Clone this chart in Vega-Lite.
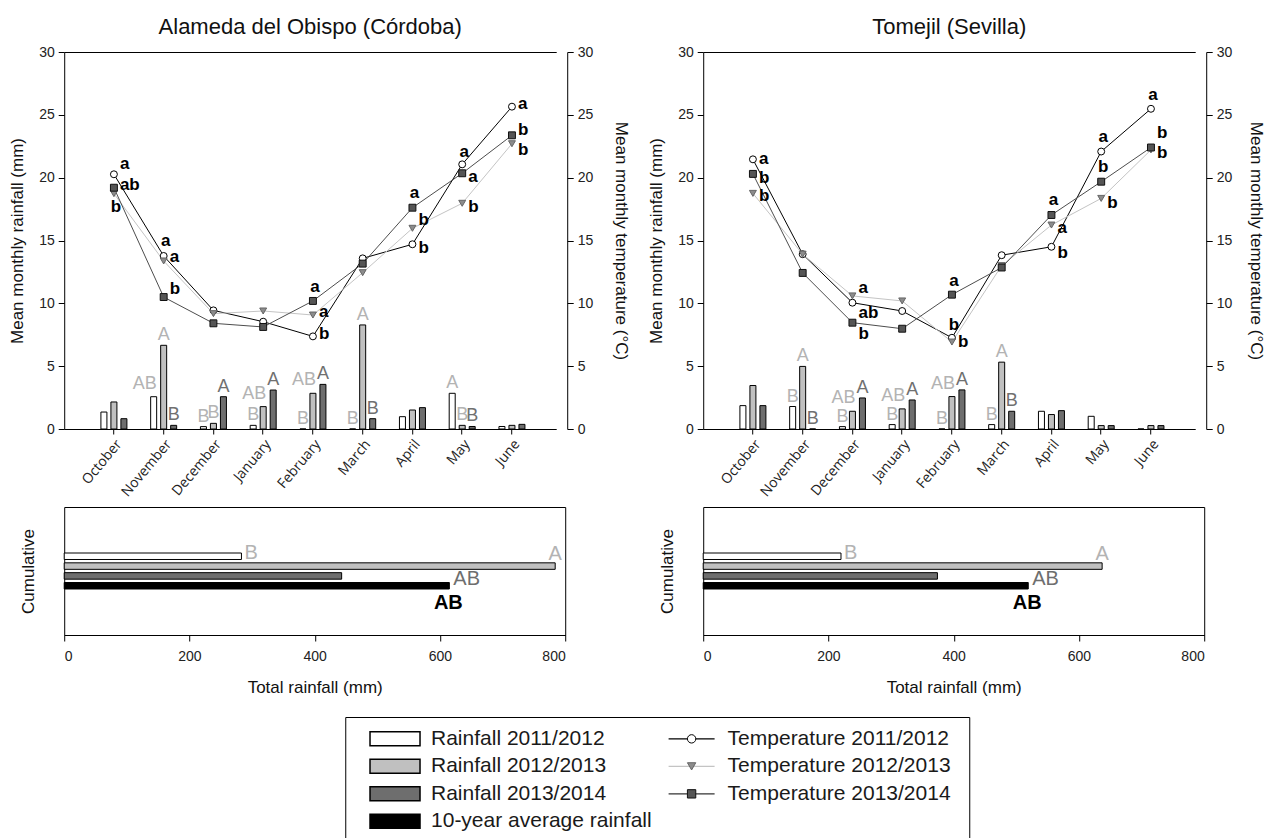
{
  "$schema": "https://vega.github.io/schema/vega-lite/v6.json",
  "padding": {"left": 8, "top": 16, "right": 0, "bottom": 0},
  "background": "white",
  "config": {
    "font": "Liberation Sans",
    "view": {"stroke": null},
    "text": {"font": "Liberation Sans"},
    "axis": {"labelFont": "Liberation Sans", "labelFontSize": 14, "labelColor": "#222", "titleFont": "Liberation Sans", "titleFontSize": 17, "titleFontWeight": "normal", "titleColor": "#111", "domainColor": "#000", "tickColor": "#000", "grid": false, "domainWidth": 1, "tickWidth": 1}
  },
  "datasets": {
    "rain": [
      {"site":"C","month":"October","year":"2011/2012","mm":1.35},
      {"site":"C","month":"October","year":"2012/2013","mm":2.15},
      {"site":"C","month":"October","year":"2013/2014","mm":0.82},
      {"site":"C","month":"November","year":"2011/2012","mm":2.57,"letter":"AB"},
      {"site":"C","month":"November","year":"2012/2013","mm":6.66,"letter":"A"},
      {"site":"C","month":"November","year":"2013/2014","mm":0.29,"letter":"B"},
      {"site":"C","month":"December","year":"2011/2012","mm":0.19,"letter":"B"},
      {"site":"C","month":"December","year":"2012/2013","mm":0.45,"letter":"B"},
      {"site":"C","month":"December","year":"2013/2014","mm":2.57,"letter":"A"},
      {"site":"C","month":"January","year":"2011/2012","mm":0.29,"letter":"B"},
      {"site":"C","month":"January","year":"2012/2013","mm":1.78,"letter":"AB"},
      {"site":"C","month":"January","year":"2013/2014","mm":3.10,"letter":"A"},
      {"site":"C","month":"February","year":"2011/2012","mm":0.0,"letter":"B"},
      {"site":"C","month":"February","year":"2012/2013","mm":2.84,"letter":"AB"},
      {"site":"C","month":"February","year":"2013/2014","mm":3.55,"letter":"A"},
      {"site":"C","month":"March","year":"2011/2012","mm":0.0,"letter":"B"},
      {"site":"C","month":"March","year":"2012/2013","mm":8.28,"letter":"A"},
      {"site":"C","month":"March","year":"2013/2014","mm":0.82,"letter":"B"},
      {"site":"C","month":"April","year":"2011/2012","mm":0.98},
      {"site":"C","month":"April","year":"2012/2013","mm":1.51},
      {"site":"C","month":"April","year":"2013/2014","mm":1.70},
      {"site":"C","month":"May","year":"2011/2012","mm":2.84,"letter":"A"},
      {"site":"C","month":"May","year":"2012/2013","mm":0.29,"letter":"B"},
      {"site":"C","month":"May","year":"2013/2014","mm":0.20,"letter":"B"},
      {"site":"C","month":"June","year":"2011/2012","mm":0.20},
      {"site":"C","month":"June","year":"2012/2013","mm":0.29},
      {"site":"C","month":"June","year":"2013/2014","mm":0.37},
      {"site":"S","month":"October","year":"2011/2012","mm":1.86},
      {"site":"S","month":"October","year":"2012/2013","mm":3.46},
      {"site":"S","month":"October","year":"2013/2014","mm":1.86},
      {"site":"S","month":"November","year":"2011/2012","mm":1.79,"letter":"B"},
      {"site":"S","month":"November","year":"2012/2013","mm":4.98,"letter":"A"},
      {"site":"S","month":"November","year":"2013/2014","mm":0.0,"letter":"B"},
      {"site":"S","month":"December","year":"2011/2012","mm":0.19,"letter":"B"},
      {"site":"S","month":"December","year":"2012/2013","mm":1.41,"letter":"AB"},
      {"site":"S","month":"December","year":"2013/2014","mm":2.47,"letter":"A"},
      {"site":"S","month":"January","year":"2011/2012","mm":0.35,"letter":"B"},
      {"site":"S","month":"January","year":"2012/2013","mm":1.60,"letter":"AB"},
      {"site":"S","month":"January","year":"2013/2014","mm":2.31,"letter":"A"},
      {"site":"S","month":"February","year":"2011/2012","mm":0.0,"letter":"B"},
      {"site":"S","month":"February","year":"2012/2013","mm":2.58,"letter":"AB"},
      {"site":"S","month":"February","year":"2013/2014","mm":3.11,"letter":"A"},
      {"site":"S","month":"March","year":"2011/2012","mm":0.35,"letter":"B"},
      {"site":"S","month":"March","year":"2012/2013","mm":5.32,"letter":"A"},
      {"site":"S","month":"March","year":"2013/2014","mm":1.41,"letter":"B"},
      {"site":"S","month":"April","year":"2011/2012","mm":1.41},
      {"site":"S","month":"April","year":"2012/2013","mm":1.15},
      {"site":"S","month":"April","year":"2013/2014","mm":1.46},
      {"site":"S","month":"May","year":"2011/2012","mm":1.01},
      {"site":"S","month":"May","year":"2012/2013","mm":0.27},
      {"site":"S","month":"May","year":"2013/2014","mm":0.27},
      {"site":"S","month":"June","year":"2011/2012","mm":0.0},
      {"site":"S","month":"June","year":"2012/2013","mm":0.27},
      {"site":"S","month":"June","year":"2013/2014","mm":0.27}
    ],
    "temp": [
      {"site":"C","year":"2011/2012","month":"October","mi":1,"t":20.27},
      {"site":"C","year":"2011/2012","month":"November","mi":2,"t":13.77},
      {"site":"C","year":"2011/2012","month":"December","mi":3,"t":9.44},
      {"site":"C","year":"2011/2012","month":"January","mi":4,"t":8.54},
      {"site":"C","year":"2011/2012","month":"February","mi":5,"t":7.37},
      {"site":"C","year":"2011/2012","month":"March","mi":6,"t":13.58},
      {"site":"C","year":"2011/2012","month":"April","mi":7,"t":14.70},
      {"site":"C","year":"2011/2012","month":"May","mi":8,"t":21.06},
      {"site":"C","year":"2011/2012","month":"June","mi":9,"t":25.65},
      {"site":"C","year":"2012/2013","month":"October","mi":1,"t":18.73},
      {"site":"C","year":"2012/2013","month":"November","mi":2,"t":13.37},
      {"site":"C","year":"2012/2013","month":"December","mi":3,"t":9.18},
      {"site":"C","year":"2012/2013","month":"January","mi":4,"t":9.39},
      {"site":"C","year":"2012/2013","month":"February","mi":5,"t":9.07},
      {"site":"C","year":"2012/2013","month":"March","mi":6,"t":12.44},
      {"site":"C","year":"2012/2013","month":"April","mi":7,"t":15.97},
      {"site":"C","year":"2012/2013","month":"May","mi":8,"t":17.96},
      {"site":"C","year":"2012/2013","month":"June","mi":9,"t":22.70},
      {"site":"C","year":"2013/2014","month":"October","mi":1,"t":19.20},
      {"site":"C","year":"2013/2014","month":"November","mi":2,"t":10.50},
      {"site":"C","year":"2013/2014","month":"December","mi":3,"t":8.41},
      {"site":"C","year":"2013/2014","month":"January","mi":4,"t":8.12},
      {"site":"C","year":"2013/2014","month":"February","mi":5,"t":10.19},
      {"site":"C","year":"2013/2014","month":"March","mi":6,"t":13.16},
      {"site":"C","year":"2013/2014","month":"April","mi":7,"t":17.61},
      {"site":"C","year":"2013/2014","month":"May","mi":8,"t":20.35},
      {"site":"C","year":"2013/2014","month":"June","mi":9,"t":23.37},
      {"site":"S","year":"2011/2012","month":"October","mi":1,"t":21.46},
      {"site":"S","year":"2011/2012","month":"November","mi":2,"t":13.91},
      {"site":"S","year":"2011/2012","month":"December","mi":3,"t":10.05},
      {"site":"S","year":"2011/2012","month":"January","mi":4,"t":9.39},
      {"site":"S","year":"2011/2012","month":"February","mi":5,"t":7.26},
      {"site":"S","year":"2011/2012","month":"March","mi":6,"t":13.83},
      {"site":"S","year":"2011/2012","month":"April","mi":7,"t":14.50},
      {"site":"S","year":"2011/2012","month":"May","mi":8,"t":22.08},
      {"site":"S","year":"2011/2012","month":"June","mi":9,"t":25.48},
      {"site":"S","year":"2012/2013","month":"October","mi":1,"t":18.75},
      {"site":"S","year":"2012/2013","month":"November","mi":2,"t":13.91},
      {"site":"S","year":"2012/2013","month":"December","mi":3,"t":10.59},
      {"site":"S","year":"2012/2013","month":"January","mi":4,"t":10.19},
      {"site":"S","year":"2012/2013","month":"February","mi":5,"t":6.92},
      {"site":"S","year":"2012/2013","month":"March","mi":6,"t":13.0},
      {"site":"S","year":"2012/2013","month":"April","mi":7,"t":16.23},
      {"site":"S","year":"2012/2013","month":"May","mi":8,"t":18.35},
      {"site":"S","year":"2012/2013","month":"June","mi":9,"t":22.21},
      {"site":"S","year":"2013/2014","month":"October","mi":1,"t":20.30},
      {"site":"S","year":"2013/2014","month":"November","mi":2,"t":12.42},
      {"site":"S","year":"2013/2014","month":"December","mi":3,"t":8.46},
      {"site":"S","year":"2013/2014","month":"January","mi":4,"t":7.98},
      {"site":"S","year":"2013/2014","month":"February","mi":5,"t":10.69},
      {"site":"S","year":"2013/2014","month":"March","mi":6,"t":12.85},
      {"site":"S","year":"2013/2014","month":"April","mi":7,"t":17.03},
      {"site":"S","year":"2013/2014","month":"May","mi":8,"t":19.68},
      {"site":"S","year":"2013/2014","month":"June","mi":9,"t":22.40}
    ],
    "tlet": [
      {"site":"C","month":"October","year":"2011/2012","letter":"a","t":21.09,"side":"r"},
      {"site":"C","month":"October","year":"2013/2014","letter":"ab","t":19.42,"side":"r"},
      {"site":"C","month":"October","year":"2012/2013","letter":"b","t":17.67,"side":"c"},
      {"site":"C","month":"November","year":"2011/2012","letter":"a","t":14.96,"side":"c"},
      {"site":"C","month":"November","year":"2012/2013","letter":"a","t":13.69,"side":"r"},
      {"site":"C","month":"November","year":"2013/2014","letter":"b","t":11.14,"side":"r"},
      {"site":"C","month":"February","year":"2013/2014","letter":"a","t":11.30,"side":"c"},
      {"site":"C","month":"February","year":"2012/2013","letter":"a","t":9.31,"side":"r"},
      {"site":"C","month":"February","year":"2011/2012","letter":"b","t":7.56,"side":"r"},
      {"site":"C","month":"April","year":"2013/2014","letter":"a","t":18.78,"side":"c"},
      {"site":"C","month":"April","year":"2012/2013","letter":"b","t":16.63,"side":"r"},
      {"site":"C","month":"April","year":"2011/2012","letter":"b","t":14.40,"side":"r"},
      {"site":"C","month":"May","year":"2011/2012","letter":"a","t":22.04,"side":"c"},
      {"site":"C","month":"May","year":"2013/2014","letter":"a","t":20.05,"side":"r"},
      {"site":"C","month":"May","year":"2012/2013","letter":"b","t":17.67,"side":"r"},
      {"site":"C","month":"June","year":"2011/2012","letter":"a","t":25.86,"side":"r"},
      {"site":"C","month":"June","year":"2013/2014","letter":"b","t":23.79,"side":"r"},
      {"site":"C","month":"June","year":"2012/2013","letter":"b","t":22.20,"side":"r"},
      {"site":"S","month":"October","year":"2011/2012","letter":"a","t":21.46,"side":"r"},
      {"site":"S","month":"October","year":"2013/2014","letter":"b","t":19.97,"side":"r"},
      {"site":"S","month":"October","year":"2012/2013","letter":"b","t":18.53,"side":"r"},
      {"site":"S","month":"December","year":"2012/2013","letter":"a","t":11.2,"side":"r"},
      {"site":"S","month":"December","year":"2011/2012","letter":"ab","t":9.24,"side":"r"},
      {"site":"S","month":"December","year":"2013/2014","letter":"b","t":7.57,"side":"r"},
      {"site":"S","month":"February","year":"2013/2014","letter":"a","t":11.74,"side":"c"},
      {"site":"S","month":"February","year":"2011/2012","letter":"b","t":8.28,"side":"c"},
      {"site":"S","month":"February","year":"2012/2013","letter":"b","t":6.9,"side":"r"},
      {"site":"S","month":"April","year":"2013/2014","letter":"a","t":18.24,"side":"c"},
      {"site":"S","month":"April","year":"2012/2013","letter":"a","t":16.0,"side":"r"},
      {"site":"S","month":"April","year":"2011/2012","letter":"b","t":14.0,"side":"r"},
      {"site":"S","month":"May","year":"2011/2012","letter":"a","t":23.23,"side":"c"},
      {"site":"S","month":"May","year":"2013/2014","letter":"b","t":20.84,"side":"c"},
      {"site":"S","month":"May","year":"2012/2013","letter":"b","t":18.0,"side":"r"},
      {"site":"S","month":"June","year":"2011/2012","letter":"a","t":26.55,"side":"c"},
      {"site":"S","month":"June","year":"2013/2014","letter":"b","t":23.58,"side":"r"},
      {"site":"S","month":"June","year":"2012/2013","letter":"b","t":21.98,"side":"r"}
    ],
    "cum": [
      {"site":"C","year":"2011/2012","mm":283},
      {"site":"C","year":"2012/2013","mm":784},
      {"site":"C","year":"2013/2014","mm":443},
      {"site":"C","year":"10-year","mm":615},
      {"site":"S","year":"2011/2012","mm":220},
      {"site":"S","year":"2012/2013","mm":637},
      {"site":"S","year":"2013/2014","mm":374},
      {"site":"S","year":"10-year","mm":519}
    ],
    "cumlet": [
      {"site":"C","year":"2011/2012","letter":"B","mm":283},
      {"site":"C","year":"2012/2013","letter":"A","mm":784},
      {"site":"C","year":"2013/2014","letter":"AB","mm":615},
      {"site":"C","year":"10-year","letter":"AB","mm":615},
      {"site":"S","year":"2011/2012","letter":"B","mm":220},
      {"site":"S","year":"2012/2013","letter":"A","mm":637},
      {"site":"S","year":"2013/2014","letter":"AB","mm":519},
      {"site":"S","year":"10-year","letter":"AB","mm":519}
    ],
    "leg": [
      {"col":"rain","row":0,"key":"r1","label":"Rainfall 2011/2012"},
      {"col":"rain","row":1,"key":"r2","label":"Rainfall 2012/2013"},
      {"col":"rain","row":2,"key":"r3","label":"Rainfall 2013/2014"},
      {"col":"rain","row":3,"key":"avg","label":"10-year average rainfall"},
      {"col":"temp","row":0,"key":"t1","label":"Temperature 2011/2012"},
      {"col":"temp","row":1,"key":"t2","label":"Temperature 2012/2013"},
      {"col":"temp","row":2,"key":"t3","label":"Temperature 2013/2014"}
    ]
  },
  "spacing": 20,
  "center": true,
  "vconcat": [
    {
      "columns": 2,
      "spacing": {"column": 17, "row": 7},
      "concat": [
        {
          "width": 492, "height": 377,
          "title": {"text": "Alameda del Obispo (Córdoba)", "fontSize": 22, "fontWeight": "normal", "font": "Liberation Sans", "color": "#111", "frame": "group", "offset": 6},
          "layer": [
            {
              "data": {"name": "rain"},
              "transform": [{"filter": "datum.site === 'C'"}],
              "encoding": {
                "x": {"field": "month", "type": "nominal", "sort": ["October","November","December","January","February","March","April","May","June"], "scale": {"type": "band", "paddingInner": 0.4774, "paddingOuter": 0.683, "align": 0.54}, "axis": {"title": null, "labelAngle": -50, "labelAlign": "right", "labelBaseline": "top", "labelFont": "Open Sans", "labelFontSize": 14, "labelColor": "#222", "tickSize": 5, "labelPadding": 3}},
                "xOffset": {"field": "year", "type": "nominal", "sort": ["2011/2012","2012/2013","2013/2014"], "scale": {"type": "band", "paddingInner": 0.4, "paddingOuter": 0}},
                "y": {"field": "mm", "type": "quantitative", "scale": {"domain": [0, 30], "nice": false}, "axis": {"title": "Mean monthly rainfall (mm)", "values": [0,5,10,15,20,25,30], "tickSize": 6, "labelPadding": 4, "titlePadding": 12}}
              },
              "layer": [
                {"mark": {"type": "bar", "stroke": "#000", "strokeWidth": 1}, "encoding": {"fill": {"field": "year", "type": "nominal", "scale": {"domain": ["2011/2012","2012/2013","2013/2014"], "range": ["#ffffff","#c0c0c0","#6e6e6e"]}, "legend": null}}},
                {"transform": [{"filter": "datum.letter && datum.letter !== 'AB'"}], "mark": {"type": "text", "fontSize": 18, "align": "center", "baseline": "alphabetic", "dy": -5}, "encoding": {"text": {"field": "letter"}, "color": {"field": "year", "type": "nominal", "scale": {"domain": ["2011/2012","2012/2013","2013/2014"], "range": ["#b3b3b3","#b3b3b3","#707070"]}, "legend": null}}},
                {"transform": [{"filter": "datum.letter === 'AB'"}], "mark": {"type": "text", "fontSize": 18, "align": "right", "baseline": "alphabetic", "dy": -8, "dx": 3}, "encoding": {"text": {"field": "letter"}, "color": {"field": "year", "type": "nominal", "scale": {"domain": ["2011/2012","2012/2013","2013/2014"], "range": ["#b3b3b3","#b3b3b3","#707070"]}, "legend": null}}}
              ]
            },
            {
              "encoding": {
                "x": {"field": "month", "type": "nominal", "sort": ["October","November","December","January","February","March","April","May","June"], "scale": {"type": "band", "paddingInner": 0.4774, "paddingOuter": 0.683, "align": 0.54}, "axis": {"orient": "top", "title": null, "labels": false, "ticks": false, "domain": true}},
                "y": {"field": "t", "type": "quantitative", "scale": {"domain": [0, 30], "nice": false}, "axis": {"orient": "right", "offset": 11, "title": "Mean monthly temperature (°C)", "values": [0,5,10,15,20,25,30], "tickSize": 6, "labelPadding": 4, "titlePadding": 19}}
              },
              "layer": [
                {"data": {"name": "temp"}, "transform": [{"filter": "datum.site === 'C'"}], "mark": {"type": "line", "strokeWidth": 1}, "encoding": {"stroke": {"field": "year", "type": "nominal", "scale": {"domain": ["2011/2012","2012/2013","2013/2014"], "range": ["#000000","#c4c4c4","#4d4d4d"]}, "legend": null}, "order": {"field": "mi", "type": "quantitative"}}},
                {"data": {"name": "temp"}, "transform": [{"filter": "datum.site === 'C'"}], "mark": {"type": "point", "filled": true, "opacity": 1, "strokeWidth": 1, "size": 48}, "encoding": {"shape": {"field": "year", "type": "nominal", "scale": {"domain": ["2011/2012","2012/2013","2013/2014"], "range": ["circle","triangle-down","square"]}, "legend": null}, "fill": {"field": "year", "type": "nominal", "scale": {"domain": ["2011/2012","2012/2013","2013/2014"], "range": ["#ffffff","#8c8c8c","#555555"]}, "legend": null}, "stroke": {"field": "year", "type": "nominal", "scale": {"domain": ["2011/2012","2012/2013","2013/2014"], "range": ["#000000","#666666","#111111"]}, "legend": null}}},
                {"data": {"name": "tlet"}, "transform": [{"filter": "datum.site === 'C' && datum.side === 'r'"}], "mark": {"type": "text", "fontSize": 17, "fontWeight": "bold", "align": "left", "baseline": "middle", "dx": 6, "color": "#000"}, "encoding": {"text": {"field": "letter"}}},
                {"data": {"name": "tlet"}, "transform": [{"filter": "datum.site === 'C' && datum.side === 'c'"}], "mark": {"type": "text", "fontSize": 17, "fontWeight": "bold", "align": "center", "baseline": "middle", "dx": 2, "color": "#000"}, "encoding": {"text": {"field": "letter"}}}
              ],
              "resolve": {"scale": {"stroke": "independent"}}
            }
          ],
          "resolve": {"scale": {"y": "independent", "fill": "independent", "stroke": "independent"}, "axis": {"x": "independent"}}
        },
        {
          "width": 492, "height": 377,
          "title": {"text": "Tomejil (Sevilla)", "fontSize": 22, "fontWeight": "normal", "font": "Liberation Sans", "color": "#111", "frame": "group", "offset": 6},
          "layer": [
            {
              "data": {"name": "rain"},
              "transform": [{"filter": "datum.site === 'S'"}],
              "encoding": {
                "x": {"field": "month", "type": "nominal", "sort": ["October","November","December","January","February","March","April","May","June"], "scale": {"type": "band", "paddingInner": 0.4774, "paddingOuter": 0.683, "align": 0.54}, "axis": {"title": null, "labelAngle": -50, "labelAlign": "right", "labelBaseline": "top", "labelFont": "Open Sans", "labelFontSize": 14, "labelColor": "#222", "tickSize": 5, "labelPadding": 3}},
                "xOffset": {"field": "year", "type": "nominal", "sort": ["2011/2012","2012/2013","2013/2014"], "scale": {"type": "band", "paddingInner": 0.4, "paddingOuter": 0}},
                "y": {"field": "mm", "type": "quantitative", "scale": {"domain": [0, 30], "nice": false}, "axis": {"title": "Mean monthly rainfall (mm)", "values": [0,5,10,15,20,25,30], "tickSize": 6, "labelPadding": 4, "titlePadding": 12}}
              },
              "layer": [
                {"mark": {"type": "bar", "stroke": "#000", "strokeWidth": 1}, "encoding": {"fill": {"field": "year", "type": "nominal", "scale": {"domain": ["2011/2012","2012/2013","2013/2014"], "range": ["#ffffff","#c0c0c0","#6e6e6e"]}, "legend": null}}},
                {"transform": [{"filter": "datum.letter && datum.letter !== 'AB'"}], "mark": {"type": "text", "fontSize": 18, "align": "center", "baseline": "alphabetic", "dy": -5}, "encoding": {"text": {"field": "letter"}, "color": {"field": "year", "type": "nominal", "scale": {"domain": ["2011/2012","2012/2013","2013/2014"], "range": ["#b3b3b3","#b3b3b3","#707070"]}, "legend": null}}},
                {"transform": [{"filter": "datum.letter === 'AB'"}], "mark": {"type": "text", "fontSize": 18, "align": "right", "baseline": "alphabetic", "dy": -8, "dx": 3}, "encoding": {"text": {"field": "letter"}, "color": {"field": "year", "type": "nominal", "scale": {"domain": ["2011/2012","2012/2013","2013/2014"], "range": ["#b3b3b3","#b3b3b3","#707070"]}, "legend": null}}}
              ]
            },
            {
              "encoding": {
                "x": {"field": "month", "type": "nominal", "sort": ["October","November","December","January","February","March","April","May","June"], "scale": {"type": "band", "paddingInner": 0.4774, "paddingOuter": 0.683, "align": 0.54}, "axis": {"orient": "top", "title": null, "labels": false, "ticks": false, "domain": true}},
                "y": {"field": "t", "type": "quantitative", "scale": {"domain": [0, 30], "nice": false}, "axis": {"orient": "right", "offset": 11, "title": "Mean monthly temperature (°C)", "values": [0,5,10,15,20,25,30], "tickSize": 6, "labelPadding": 4, "titlePadding": 15}}
              },
              "layer": [
                {"data": {"name": "temp"}, "transform": [{"filter": "datum.site === 'S'"}], "mark": {"type": "line", "strokeWidth": 1}, "encoding": {"stroke": {"field": "year", "type": "nominal", "scale": {"domain": ["2011/2012","2012/2013","2013/2014"], "range": ["#000000","#c4c4c4","#4d4d4d"]}, "legend": null}, "order": {"field": "mi", "type": "quantitative"}}},
                {"data": {"name": "temp"}, "transform": [{"filter": "datum.site === 'S'"}], "mark": {"type": "point", "filled": true, "opacity": 1, "strokeWidth": 1, "size": 48}, "encoding": {"shape": {"field": "year", "type": "nominal", "scale": {"domain": ["2011/2012","2012/2013","2013/2014"], "range": ["circle","triangle-down","square"]}, "legend": null}, "fill": {"field": "year", "type": "nominal", "scale": {"domain": ["2011/2012","2012/2013","2013/2014"], "range": ["#ffffff","#8c8c8c","#555555"]}, "legend": null}, "stroke": {"field": "year", "type": "nominal", "scale": {"domain": ["2011/2012","2012/2013","2013/2014"], "range": ["#000000","#666666","#111111"]}, "legend": null}}},
                {"data": {"name": "tlet"}, "transform": [{"filter": "datum.site === 'S' && datum.side === 'r'"}], "mark": {"type": "text", "fontSize": 17, "fontWeight": "bold", "align": "left", "baseline": "middle", "dx": 6, "color": "#000"}, "encoding": {"text": {"field": "letter"}}},
                {"data": {"name": "tlet"}, "transform": [{"filter": "datum.site === 'S' && datum.side === 'c'"}], "mark": {"type": "text", "fontSize": 17, "fontWeight": "bold", "align": "center", "baseline": "middle", "dx": 2, "color": "#000"}, "encoding": {"text": {"field": "letter"}}}
              ],
              "resolve": {"scale": {"stroke": "independent"}}
            }
          ],
          "resolve": {"scale": {"y": "independent", "fill": "independent", "stroke": "independent"}, "axis": {"x": "independent"}}
        },
        {
          "width": 501, "height": 128,
          "view": {"stroke": "#000", "strokeWidth": 1},
          "encoding": {
            "x": {"field": "mm", "type": "quantitative", "scale": {"domain": [0, 800], "nice": false}, "axis": {"title": "Total rainfall (mm)", "values": [0,200,400,600,800], "tickSize": 6, "labelPadding": 8, "titlePadding": 16}},
            "y": {"field": "site", "type": "nominal", "scale": {"type": "band", "paddingInner": 0, "paddingOuter": 1}, "axis": {"title": "Cumulative", "labels": false, "ticks": false, "domain": false, "titlePadding": 27}},
            "yOffset": {"field": "year", "type": "nominal", "sort": ["2011/2012","2012/2013","2013/2014","10-year"], "scale": {"type": "band", "paddingInner": 0.34, "paddingOuter": 0.34}}
          },
          "layer": [
            {"data": {"name": "cum"}, "transform": [{"filter": "datum.site === 'C'"}], "mark": {"type": "bar", "stroke": "#000", "strokeWidth": 1}, "encoding": {"fill": {"field": "year", "type": "nominal", "scale": {"domain": ["2011/2012","2012/2013","2013/2014","10-year"], "range": ["#ffffff","#c0c0c0","#6e6e6e","#000000"]}, "legend": null}}},
            {"data": {"name": "cumlet"}, "transform": [{"filter": "datum.site === 'C' && datum.year === '2011/2012'"}], "mark": {"type": "text", "fontSize": 20, "align": "left", "baseline": "middle", "dx": 3, "dy": -3, "color": "#b3b3b3"}, "encoding": {"text": {"field": "letter"}}},
            {"data": {"name": "cumlet"}, "transform": [{"filter": "datum.site === 'C' && datum.year === '2012/2013'"}], "mark": {"type": "text", "fontSize": 20, "align": "center", "baseline": "middle", "dy": -12, "color": "#b3b3b3"}, "encoding": {"text": {"field": "letter"}}},
            {"data": {"name": "cumlet"}, "transform": [{"filter": "datum.site === 'C' && datum.year === '2013/2014'"}], "mark": {"type": "text", "fontSize": 20, "align": "left", "baseline": "middle", "dx": 4, "dy": 3, "color": "#6e6e6e"}, "encoding": {"text": {"field": "letter"}}},
            {"data": {"name": "cumlet"}, "transform": [{"filter": "datum.site === 'C' && datum.year === '10-year'"}], "mark": {"type": "text", "fontSize": 20, "fontWeight": "bold", "align": "center", "baseline": "middle", "dx": -1, "dy": 17, "color": "#000"}, "encoding": {"text": {"field": "letter"}}}
          ]
        },
        {
          "width": 501, "height": 128,
          "view": {"stroke": "#000", "strokeWidth": 1},
          "encoding": {
            "x": {"field": "mm", "type": "quantitative", "scale": {"domain": [0, 800], "nice": false}, "axis": {"title": "Total rainfall (mm)", "values": [0,200,400,600,800], "tickSize": 6, "labelPadding": 8, "titlePadding": 16}},
            "y": {"field": "site", "type": "nominal", "scale": {"type": "band", "paddingInner": 0, "paddingOuter": 1}, "axis": {"title": "Cumulative", "labels": false, "ticks": false, "domain": false, "titlePadding": 27}},
            "yOffset": {"field": "year", "type": "nominal", "sort": ["2011/2012","2012/2013","2013/2014","10-year"], "scale": {"type": "band", "paddingInner": 0.34, "paddingOuter": 0.34}}
          },
          "layer": [
            {"data": {"name": "cum"}, "transform": [{"filter": "datum.site === 'S'"}], "mark": {"type": "bar", "stroke": "#000", "strokeWidth": 1}, "encoding": {"fill": {"field": "year", "type": "nominal", "scale": {"domain": ["2011/2012","2012/2013","2013/2014","10-year"], "range": ["#ffffff","#c0c0c0","#6e6e6e","#000000"]}, "legend": null}}},
            {"data": {"name": "cumlet"}, "transform": [{"filter": "datum.site === 'S' && datum.year === '2011/2012'"}], "mark": {"type": "text", "fontSize": 20, "align": "left", "baseline": "middle", "dx": 3, "dy": -3, "color": "#b3b3b3"}, "encoding": {"text": {"field": "letter"}}},
            {"data": {"name": "cumlet"}, "transform": [{"filter": "datum.site === 'S' && datum.year === '2012/2013'"}], "mark": {"type": "text", "fontSize": 20, "align": "center", "baseline": "middle", "dy": -12, "color": "#b3b3b3"}, "encoding": {"text": {"field": "letter"}}},
            {"data": {"name": "cumlet"}, "transform": [{"filter": "datum.site === 'S' && datum.year === '2013/2014'"}], "mark": {"type": "text", "fontSize": 20, "align": "left", "baseline": "middle", "dx": 4, "dy": 3, "color": "#6e6e6e"}, "encoding": {"text": {"field": "letter"}}},
            {"data": {"name": "cumlet"}, "transform": [{"filter": "datum.site === 'S' && datum.year === '10-year'"}], "mark": {"type": "text", "fontSize": 20, "fontWeight": "bold", "align": "center", "baseline": "middle", "dx": -1, "dy": 17, "color": "#000"}, "encoding": {"text": {"field": "letter"}}}
          ]
        }
      ]
    },
    {
      "width": 624, "height": 130,
      "view": {"stroke": "#000", "strokeWidth": 1},
      "data": {"name": "leg"},
      "encoding": {
        "x": {"field": "col", "type": "nominal", "scale": {"type": "point", "padding": 0.552, "align": 0.152}, "axis": null},
        "y": {"field": "row", "type": "ordinal", "scale": {"type": "point", "padding": 0.864, "align": 0.46}, "axis": {"orient": "right", "labels": false, "ticks": false, "domain": false, "title": "x", "titleOpacity": 0, "titlePadding": 0, "titleFontSize": 14}}
      },
      "layer": [
        {"transform": [{"filter": "datum.col === 'rain'"}], "mark": {"type": "point", "shape": "M-1,-0.28L1,-0.28L1,0.28L-1,0.28Z", "size": 2500, "filled": true, "opacity": 1, "stroke": "#000", "strokeWidth": 1.5}, "encoding": {"fill": {"field": "key", "type": "nominal", "scale": {"domain": ["r1","r2","r3","avg"], "range": ["#ffffff","#c0c0c0","#6e6e6e","#000000"]}, "legend": null}}},
        {"transform": [{"filter": "datum.col === 'temp'"}], "mark": {"type": "point", "shape": "M-1,0L1,0", "size": 2116, "filled": false, "opacity": 1, "strokeWidth": 1.3}, "encoding": {"stroke": {"field": "key", "type": "nominal", "scale": {"domain": ["t1","t2","t3"], "range": ["#000000","#c4c4c4","#333333"]}, "legend": null}}},
        {"transform": [{"filter": "datum.col === 'temp'"}], "mark": {"type": "point", "filled": true, "opacity": 1, "size": 70, "strokeWidth": 1}, "encoding": {"shape": {"field": "key", "type": "nominal", "scale": {"domain": ["t1","t2","t3"], "range": ["circle","triangle-down","square"]}, "legend": null}, "fill": {"field": "key", "type": "nominal", "scale": {"domain": ["t1","t2","t3"], "range": ["#ffffff","#8c8c8c","#555555"]}, "legend": null}, "stroke": {"field": "key", "type": "nominal", "scale": {"domain": ["t1","t2","t3"], "range": ["#000000","#666666","#111111"]}, "legend": null}}},
        {"mark": {"type": "text", "fontSize": 21, "align": "left", "baseline": "middle", "dx": 36, "color": "#1a1a1a"}, "encoding": {"text": {"field": "label"}}}
      ],
      "resolve": {"scale": {"fill": "independent", "stroke": "independent"}}
    }
  ]
}
